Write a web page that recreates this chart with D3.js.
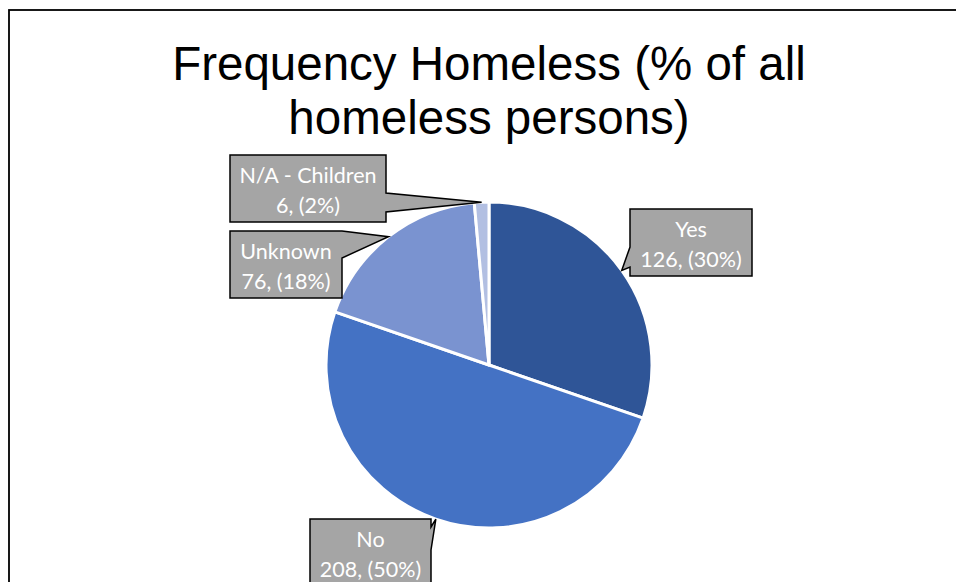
<!DOCTYPE html>
<html>
<head>
<meta charset="utf-8">
<script src="https://cdn.jsdelivr.net/npm/d3@7"></script>
<style>
  html, body { margin: 0; padding: 0; background: #fff; }
  svg { display: block; }
</style>
</head>
<body>
<svg id="chart" width="956" height="582"></svg>
<script>
// ---- data ----
const titleLines = ["Frequency Homeless (% of all", "homeless persons)"];
const categories = ["Yes", "No", "Unknown", "N/A - Children"];
const counts = [126, 208, 76, 6];
const percentLabels = ["30%", "50%", "18%", "2%"];
const sliceColors = ["#2F5597", "#4472C4", "#7A93D0", "#B2BFE2"];

// ---- layout (callout boxes) ----
const callouts = [
  { x: 630, y: 209, w: 122, side: "left",  a: 38, b: 58 },   // Yes
  { x: 310, y: 519, w: 121, side: "right", a: 8,  b: 31 },   // No
  { x: 230, y: 231, w: 112, side: "right", a: 0,  b: 27 },   // Unknown
  { x: 230, y: 155, w: 156, side: "right", a: 38, b: 57 }    // N/A
];
const boxH = 67;

const svg = d3.select("#chart");
const W = 956, H = 582;

// outer chart frame (extends beyond the viewport)
svg.append("rect")
  .attr("x", 9).attr("y", 10)
  .attr("width", 1100).attr("height", 1100)
  .attr("fill", "#fff")
  .attr("stroke", "#000").attr("stroke-width", 1.8);

// title
svg.append("text")
  .attr("x", 489).attr("text-anchor", "middle")
  .attr("font-family", "Liberation Sans, Arial, sans-serif")
  .attr("font-size", 47.5).attr("fill", "#000")
  .selectAll("tspan").data(titleLines).join("tspan")
  .attr("x", 489)
  .attr("y", (d, i) => 80 + i * 54)
  .text(d => d);

// pie
const cx = 489, cy = 365, R = 163;
const data = categories.map((c, i) => ({ cat: c, value: counts[i], pct: percentLabels[i], color: sliceColors[i], i }));
const pie = d3.pie().value(d => d.value).sort(null);
const arcs = pie(data);
const arc = d3.arc().innerRadius(0).outerRadius(R);
const rim = d3.arc().innerRadius(R).outerRadius(R);

const g = svg.append("g").attr("transform", `translate(${cx},${cy})`);
g.selectAll("path.slice").data(arcs).join("path")
  .attr("class", "slice")
  .attr("d", arc)
  .attr("fill", d => d.data.color)
  .attr("stroke", "#fff")
  .attr("stroke-width", 3)
  .attr("stroke-linejoin", "round");

// callouts
function calloutPath(b, tip) {
  const x0 = b.x, y0 = b.y, x1 = b.x + b.w, y1 = b.y + boxH;
  const pts = [[x0, y0]];
  if (b.side === "top") pts.push([x0 + b.a, y0], tip, [x0 + b.b, y0]);
  pts.push([x1, y0]);
  if (b.side === "right") pts.push([x1, y0 + b.a], tip, [x1, y0 + b.b]);
  pts.push([x1, y1]);
  if (b.side === "bottom") pts.push([x0 + b.b, y1], tip, [x0 + b.a, y1]);
  pts.push([x0, y1]);
  if (b.side === "left") pts.push([x0, y0 + b.b], tip, [x0, y0 + b.a]);
  return "M" + pts.map(p => p.join(",")).join("L") + "Z";
}

const lg = svg.append("g");
arcs.forEach((a, i) => {
  const b = callouts[i];
  const c = rim.centroid(a);
  const tip = [cx + c[0], cy + c[1]];
  lg.append("path")
    .attr("d", calloutPath(b, tip))
    .attr("fill", "#A5A5A5")
    .attr("stroke", "#000")
    .attr("stroke-width", 1.5)
    .attr("stroke-linejoin", "miter");
  const t = lg.append("text")
    .attr("text-anchor", "middle")
    .attr("font-family", "Lato, 'Open Sans', sans-serif")
    .attr("font-size", 21.5)
    .attr("fill", "#fff");
  t.append("tspan").attr("x", b.x + b.w / 2).attr("y", b.y + 28).text(a.data.cat);
  t.append("tspan").attr("x", b.x + b.w / 2).attr("y", b.y + 58)
    .text(`${a.data.value}, (${a.data.pct})`);
});
</script>
</body>
</html>
